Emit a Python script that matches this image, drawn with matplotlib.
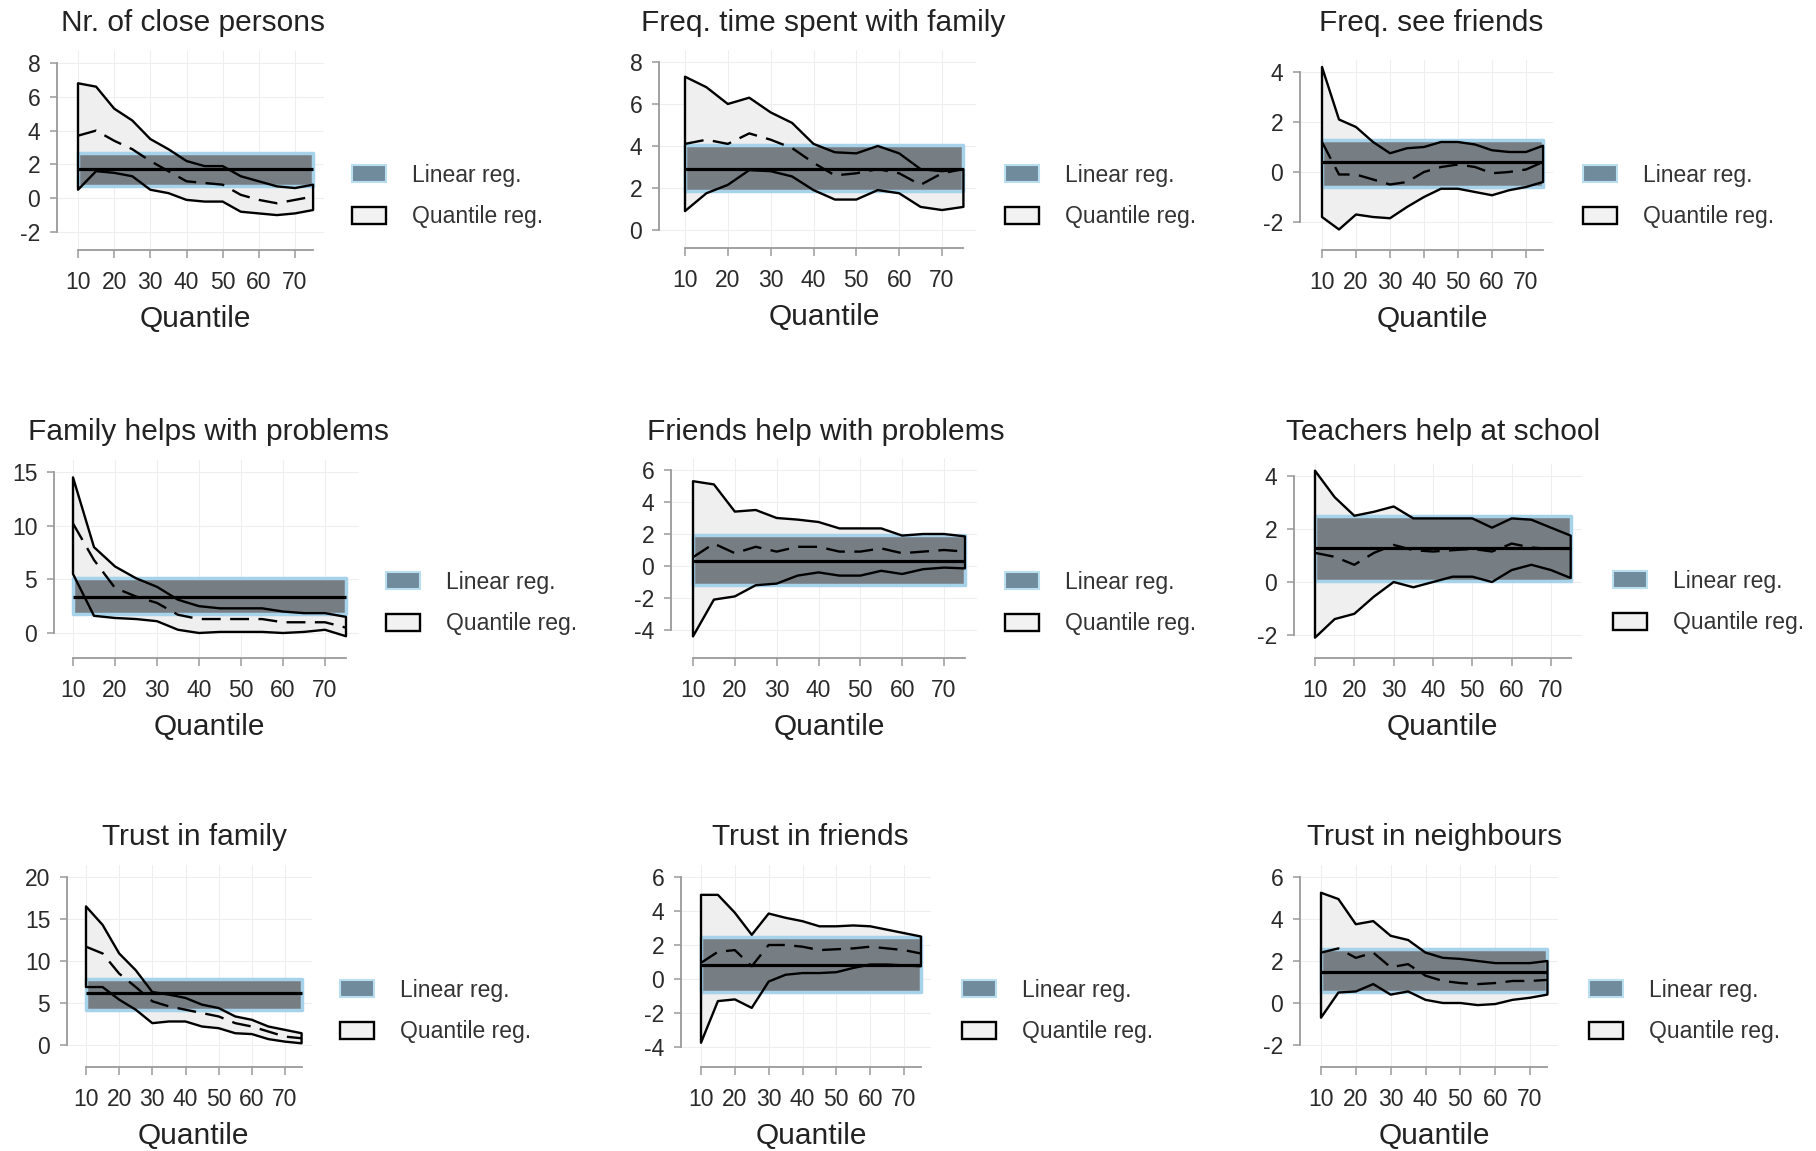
import matplotlib
matplotlib.use("Agg")
import matplotlib.pyplot as plt
from matplotlib.patches import Patch

plt.rcParams["font.family"] = ["Liberation Sans", "DejaVu Sans"]
plt.rcParams["axes.unicode_minus"] = False

quantiles = [10, 15, 20, 25, 30, 35, 40, 45, 50, 55, 60, 65, 70, 75]

titles = ["Nr. of close persons", "Freq. time spent with family", "Freq. see friends",
          "Family helps with problems", "Friends help with problems", "Teachers help at school",
          "Trust in family", "Trust in friends", "Trust in neighbours"]

# quantile regression: upper bound, estimate, lower bound
close_hi = [6.8, 6.6, 5.3, 4.6, 3.5, 2.9, 2.2, 1.9, 1.9, 1.3, 1.0, 0.7, 0.6, 0.8]
close_est = [3.7, 4.0, 3.4, 2.9, 2.2, 1.6, 1.0, 0.9, 0.8, 0.2, -0.1, -0.3, -0.1, 0.1]
close_lo = [0.5, 1.6, 1.5, 1.3, 0.5, 0.3, -0.1, -0.2, -0.2, -0.8, -0.9, -1.0, -0.9, -0.7]

famtime_hi = [7.3, 6.8, 6.0, 6.3, 5.6, 5.1, 4.1, 3.7, 3.65, 4.0, 3.65, 2.9, 2.8, 2.9]
famtime_est = [4.1, 4.3, 4.1, 4.6, 4.3, 3.9, 3.2, 2.6, 2.7, 2.9, 2.7, 2.15, 2.7, 2.9]
famtime_lo = [0.9, 1.75, 2.15, 2.85, 2.8, 2.55, 1.9, 1.45, 1.45, 1.9, 1.75, 1.1, 0.95, 1.1]

seefr_hi = [4.2, 2.1, 1.8, 1.2, 0.75, 0.95, 1.0, 1.2, 1.2, 1.1, 0.87, 0.8, 0.8, 1.05]
seefr_est = [1.2, -0.1, -0.1, -0.3, -0.5, -0.4, 0.0, 0.2, 0.3, 0.2, -0.05, 0.0, 0.1, 0.4]
seefr_lo = [-1.8, -2.3, -1.7, -1.8, -1.85, -1.4, -1.0, -0.67, -0.67, -0.8, -0.93, -0.73, -0.6, -0.4]

famhelp_hi = [14.5, 8.0, 6.2, 5.1, 4.3, 3.1, 2.5, 2.3, 2.3, 2.3, 2.0, 1.85, 1.85, 1.5]
famhelp_est = [10.2, 6.8, 4.2, 3.4, 2.8, 1.7, 1.3, 1.3, 1.3, 1.3, 1.0, 1.0, 1.0, 0.5]
famhelp_lo = [5.5, 1.6, 1.4, 1.3, 1.1, 0.3, 0.0, 0.1, 0.1, 0.1, 0.0, 0.1, 0.3, -0.3]

frhelp_hi = [5.3, 5.1, 3.4, 3.5, 3.0, 2.9, 2.75, 2.35, 2.35, 2.35, 1.9, 2.0, 2.0, 1.85]
frhelp_est = [0.55, 1.4, 0.8, 1.2, 0.9, 1.2, 1.2, 0.9, 0.9, 1.1, 0.8, 0.9, 1.0, 0.9]
frhelp_lo = [-4.4, -2.1, -1.9, -1.2, -1.1, -0.6, -0.4, -0.6, -0.6, -0.3, -0.5, -0.2, -0.1, -0.15]

teach_hi = [4.2, 3.2, 2.5, 2.65, 2.85, 2.4, 2.4, 2.4, 2.4, 2.05, 2.4, 2.35, 2.05, 1.75]
teach_est = [1.1, 0.95, 0.65, 1.1, 1.4, 1.2, 1.15, 1.2, 1.25, 1.15, 1.45, 1.3, 1.25, 1.25]
teach_lo = [-2.1, -1.4, -1.2, -0.55, 0.0, -0.2, 0.0, 0.2, 0.2, 0.0, 0.45, 0.65, 0.45, 0.15]

trfam_hi = [16.5, 14.3, 10.9, 8.9, 6.3, 6.0, 5.6, 4.8, 4.4, 3.4, 3.0, 2.2, 1.8, 1.4]
trfam_est = [11.7, 10.9, 8.5, 6.9, 5.2, 4.6, 4.2, 3.8, 3.4, 2.6, 2.2, 1.6, 1.0, 0.8]
trfam_lo = [6.9, 6.9, 5.4, 4.2, 2.6, 2.8, 2.8, 2.2, 2.0, 1.4, 1.3, 0.7, 0.4, 0.2]

trfr_hi = [4.95, 4.95, 3.9, 2.6, 3.85, 3.6, 3.4, 3.1, 3.1, 3.15, 3.1, 2.9, 2.7, 2.5]
trfr_est = [0.95, 1.6, 1.7, 0.75, 2.0, 2.0, 1.9, 1.7, 1.75, 1.8, 1.9, 1.8, 1.7, 1.5]
trfr_lo = [-3.75, -1.3, -1.2, -1.7, -0.15, 0.25, 0.35, 0.35, 0.4, 0.65, 0.85, 0.85, 0.8, 0.75]

trnb_hi = [5.25, 4.95, 3.75, 3.9, 3.2, 3.0, 2.4, 2.15, 2.1, 2.0, 1.9, 1.9, 1.9, 2.0]
trnb_est = [2.4, 2.6, 2.15, 2.4, 1.7, 1.85, 1.3, 1.05, 0.95, 0.9, 0.95, 1.05, 1.05, 1.1]
trnb_lo = [-0.7, 0.5, 0.55, 0.9, 0.4, 0.55, 0.15, 0.0, 0.0, -0.1, -0.05, 0.15, 0.25, 0.4]

# linear regression: coefficient and confidence bounds
lin_coef = [1.7, 2.9, 0.4, 3.4, 0.3, 1.3, 6.2, 0.85, 1.5]
lin_lo = [0.7, 1.85, -0.6, 1.8, -1.2, 0.05, 4.2, -0.75, 0.5]
lin_hi = [2.65, 4.05, 1.3, 5.1, 1.95, 2.5, 7.8, 2.45, 2.55]

y_ticks = [[-2, 0, 2, 4, 6, 8], [0, 2, 4, 6, 8], [-2, 0, 2, 4],
           [0, 5, 10, 15], [-4, -2, 0, 2, 4, 6], [-2, 0, 2, 4],
           [0, 5, 10, 15, 20], [-4, -2, 0, 2, 4, 6], [-2, 0, 2, 4, 6]]
x_ticks = [10, 20, 30, 40, 50, 60, 70]

q_hi = [close_hi, famtime_hi, seefr_hi, famhelp_hi, frhelp_hi, teach_hi, trfam_hi, trfr_hi, trnb_hi]
q_est = [close_est, famtime_est, seefr_est, famhelp_est, frhelp_est, teach_est, trfam_est, trfr_est, trnb_est]
q_lo = [close_lo, famtime_lo, seefr_lo, famhelp_lo, frhelp_lo, teach_lo, trfam_lo, trfr_lo, trnb_lo]

# pixel layout: y-axis x, x of q=10, x of q=70, y of top tick, y of bottom tick,
# x-axis line y, title centre x/y, legend patch left x / centre y
layout = [
    (57, 78, 295, 63, 232, 250, 193, 23, 352, 196),
    (659, 685, 942, 62, 230, 248, 823, 23, 1005, 196),
    (1300, 1322, 1526, 72, 222, 250, 1431, 23, 1583, 196),
    (54, 73, 325, 472, 633, 658, 209, 432, 386, 603),
    (671, 693, 944, 470, 630, 658, 826, 432, 1005, 603),
    (1294, 1315, 1551, 476, 635, 658, 1443, 432, 1613, 602),
    (67, 86, 285, 877, 1045, 1067, 194, 837, 340, 1011),
    (681, 701, 904, 877, 1047, 1067, 810, 837, 962, 1011),
    (1300, 1321, 1530, 877, 1045, 1067, 1435, 837, 1589, 1011),
]

W, H = 1816, 1151
fig = plt.figure(figsize=(W / 100, H / 100), dpi=100)

axis_grey = "#9a9a9a"
band_face = "#777e83"
band_edge = "#a6d2ea"
qfill = "#efefef"

for i in range(9):
    yax, p10, p70, ptop, pbot, xaxl, tx, ty, lx, ly = layout[i]
    s = (p70 - p10) / 60
    right = p10 + 68 * s
    yt = y_ticks[i]
    ymin, ymax = yt[0], yt[-1]
    sy = (pbot - ptop) / (ymax - ymin)
    top_px = ptop - 12
    ax = fig.add_axes([yax / W, 1 - xaxl / H, (right - yax) / W, (xaxl - top_px) / H])
    ax.set_xlim(10 - (p10 - yax) / s, 78)
    ax.set_ylim(ymin - (xaxl - pbot) / sy, ymax + 12 / sy)

    ax.fill_between(quantiles, q_lo[i], q_hi[i], facecolor=qfill, edgecolor="none", zorder=1)
    ax.fill_between([quantiles[0], quantiles[-1]], lin_lo[i], lin_hi[i],
                    facecolor=band_face, edgecolor=band_edge, linewidth=2.5, zorder=2)
    ax.fill_between(quantiles, q_lo[i], q_hi[i], facecolor="none", edgecolor="black",
                    linewidth=1.7, zorder=3)
    ax.plot(quantiles, q_est[i], color="black", linewidth=1.7, dashes=(8, 4), zorder=4)
    ax.hlines(lin_coef[i], quantiles[0], quantiles[-1], color="black", linewidth=2.3, zorder=5)

    ax.set_xticks(x_ticks)
    ax.set_yticks(yt)
    ax.grid(True, color="#eeeeee", linewidth=0.8)
    ax.set_axisbelow(True)
    for side in ["top", "right"]:
        ax.spines[side].set_visible(False)
    ax.spines["left"].set_bounds(ymin, ymax)
    ax.spines["bottom"].set_bounds(quantiles[0], quantiles[-1])
    for side in ["left", "bottom"]:
        ax.spines[side].set_color(axis_grey)
        ax.spines[side].set_linewidth(1.3)
    ax.tick_params(axis="x", length=6, width=1.1, color=axis_grey, pad=9,
                   labelsize=16.5, labelcolor="#2a2a2a")
    ax.tick_params(axis="y", length=5, width=1.1, color=axis_grey, pad=7,
                   labelsize=16.5, labelcolor="#2a2a2a")

    fig.text(tx / W, 1 - ty / H, titles[i], ha="center", va="center",
             fontsize=21.5, color="#222222")
    fig.text((p10 + 32.5 * s) / W, 1 - (xaxl + 69) / H, "Quantile", ha="center",
             va="center", fontsize=21.5, color="#222222")

    handles = [Patch(facecolor="#6f8b9c", edgecolor="#b9def0", linewidth=1.5),
               Patch(facecolor="#f2f2f2", edgecolor="black", linewidth=1.7)]
    ax.legend(handles, ["Linear reg.", "Quantile reg."], loc="center left",
              bbox_to_anchor=(lx / W, 1 - ly / H), bbox_transform=fig.transFigure,
              frameon=False, fontsize=16.5, handlelength=1.5, handleheight=0.75,
              handletextpad=1.1, labelspacing=0.8, borderpad=0, borderaxespad=0,
              labelcolor="#333333")

fig.savefig("out.png", dpi=100)
